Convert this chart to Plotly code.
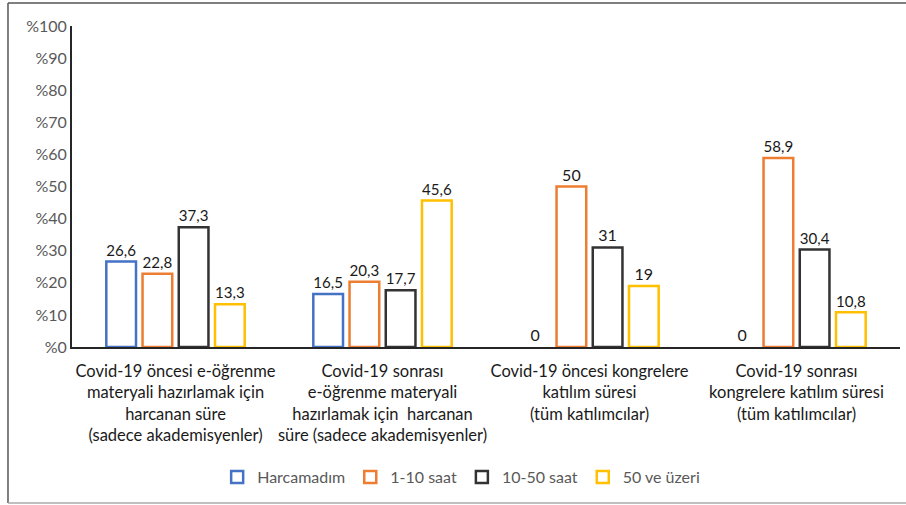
import plotly.graph_objects as go

categories = [
    "Covid-19 öncesi e-öğrenme<br>materyali hazırlamak için<br>harcanan süre<br>(sadece akademisyenler)",
    "Covid-19 sonrası<br>e-öğrenme materyali<br>hazırlamak için  harcanan<br>süre (sadece akademisyenler)",
    "Covid-19 öncesi kongrelere<br>katılım süresi<br>(tüm katılımcılar)",
    "Covid-19 sonrası<br>kongrelere katılım süresi<br>(tüm katılımcılar)",
]
series_names = ["Harcamadım", "1-10 saat", "10-50 saat", "50 ve üzeri"]
harcamadim = [26.6, 16.5, 0, 0]
saat_1_10 = [22.8, 20.3, 50, 58.9]
saat_10_50 = [37.3, 17.7, 31, 30.4]
ve_uzeri_50 = [13.3, 45.6, 19, 10.8]
tick_vals = [0, 10, 20, 30, 40, 50, 60, 70, 80, 90, 100]
tick_text = ["%0", "%10", "%20", "%30", "%40", "%50", "%60", "%70", "%80", "%90", "%100"]

colors = ["#4472C4", "#ED7D31", "#333333", "#FFC000"]
all_series = [harcamadim, saat_1_10, saat_10_50, ve_uzeri_50]

def fmt(v):
    s = ("%.1f" % v).rstrip("0").rstrip(".")
    return s.replace(".", ",")

FONT = "Lato, Open Sans, sans-serif"

fig = go.Figure()
for name, vals, col in zip(series_names, all_series, colors):
    fig.add_trace(go.Bar(
        name=name, x=categories, y=vals,
        text=[fmt(v) for v in vals], textposition="outside",
        textfont=dict(size=16, color="#1a1a1a", family=FONT),
        marker=dict(color="white",
                    line=dict(color=col, width=[2.5 if v > 0 else 0 for v in vals])),
        cliponaxis=False,
    ))

fig.update_layout(
    width=906, height=505,
    margin=dict(l=72, r=6, t=26, b=158),
    plot_bgcolor="white", paper_bgcolor="white",
    barmode="group", bargap=0.3, bargroupgap=0.18,
    font=dict(family=FONT, color="#1a1a1a"),
    showlegend=True,
    legend=dict(orientation="h", x=0.47, xanchor="center", y=-0.405, yanchor="middle",
                font=dict(size=16, color="#595959", family=FONT),
                itemwidth=30, traceorder="normal"),
    xaxis=dict(showline=True, linecolor="#262626", linewidth=2, ticks="",
               tickfont=dict(size=16.5, color="#1a1a1a", family=FONT),
               ticklabelstandoff=8, showgrid=False),
    yaxis=dict(range=[0, 100], tickvals=tick_vals, ticktext=tick_text,
               showline=True, linecolor="#262626", linewidth=2, showgrid=False,
               ticks="", zeroline=False,
               tickfont=dict(size=16, color="#595959", family=FONT)),
    shapes=[
        dict(type="line", xref="paper", yref="paper", x0=-0.0773, x1=-0.0773, y0=-0.486, y1=1.0717,
             line=dict(color="#555555", width=1.5)),
        dict(type="line", xref="paper", yref="paper", x0=-0.0773, x1=1.02, y0=1.0717, y1=1.0717,
             line=dict(color="#555555", width=1.5)),
        dict(type="line", xref="paper", yref="paper", x0=-0.0773, x1=1.02, y0=-0.486, y1=-0.486,
             line=dict(color="#aaaaaa", width=1.5)),
    ],
)

fig.write_html("out.html", config={"displayModeBar": False},
               post_script="document.body.style.margin='0';")
